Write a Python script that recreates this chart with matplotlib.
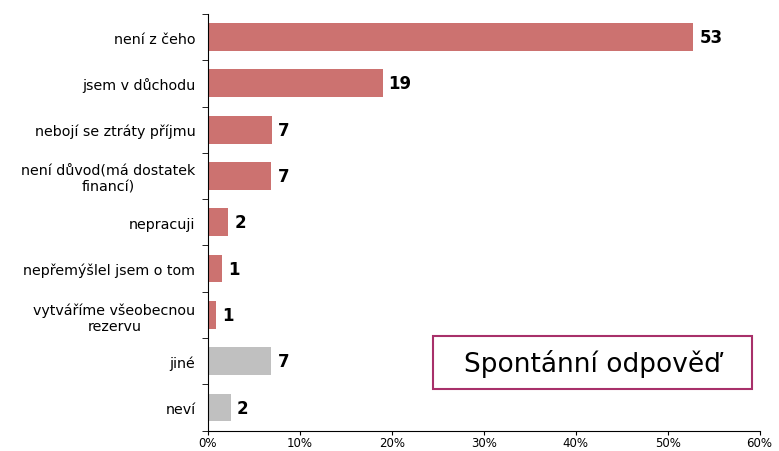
import numpy as np
import matplotlib.pyplot as plt
from matplotlib.patches import Rectangle
from matplotlib.ticker import FuncFormatter, FixedLocator

# data
categories = ["není z čeho", "jsem v důchodu", "nebojí se ztráty příjmu",
              "není důvod(má dostatek\nfinancí)", "nepracuji",
              "nepřemýšlel jsem o tom", "vytváříme všeobecnou\nrezervu",
              "jiné", "neví"]
values = [52.8, 19.0, 7.0, 6.9, 2.2, 1.5, 0.9, 6.9, 2.5]
value_labels = ["53", "19", "7", "7", "2", "1", "1", "7", "2"]
is_other = [False, False, False, False, False, False, False, True, True]

RED = "#CC7270"
GREY = "#C0C0C0"

plt.rcParams['font.family'] = ['DejaVu Sans']

fig = plt.figure(figsize=(7.79, 4.52), dpi=100)
ax = fig.add_axes([0.267, 0.045, 0.708, 0.922])

y = np.arange(len(categories))
colors = [GREY if o else RED for o in is_other]
ax.barh(y, values, height=0.6, color=colors, edgecolor='none')

# value labels next to bars
for yi, v, lab in zip(y, values, value_labels):
    ax.text(v + 0.65, yi, lab, va='center', ha='left',
            fontsize=12, fontweight='bold', color='black')

ax.set_ylim(len(categories) - 0.5, -0.5)
ax.set_xlim(0, 60)
ax.set_xticks(np.arange(0, 61, 10))
ax.xaxis.set_major_formatter(FuncFormatter(lambda v, p: "%d%%" % v))
ax.tick_params(axis='x', labelsize=8.5, length=3, direction='out', pad=1)

ax.set_yticks(y)
ax.set_yticklabels(categories, fontsize=10.3)
for lbl in ax.get_yticklabels():
    lbl.set_multialignment('center')
ax.tick_params(axis='y', which='major', length=0, pad=9)
ax.yaxis.set_minor_locator(FixedLocator(np.arange(-0.5, len(categories), 1.0)))
ax.tick_params(axis='y', which='minor', length=4, direction='out')

for s in ['top', 'right']:
    ax.spines[s].set_visible(False)

# annotation box
fig.patches.append(Rectangle((433 / 779, 1 - 390 / 452), 319 / 779, 53 / 452,
                             transform=fig.transFigure, facecolor='white',
                             edgecolor='#A8306A', linewidth=1.5, zorder=5))
fig.text(592 / 779, 1 - 364 / 452, "Spontánní odpověď", ha='center', va='center',
         fontsize=19, zorder=6)

fig.savefig("out.png", dpi=100)
